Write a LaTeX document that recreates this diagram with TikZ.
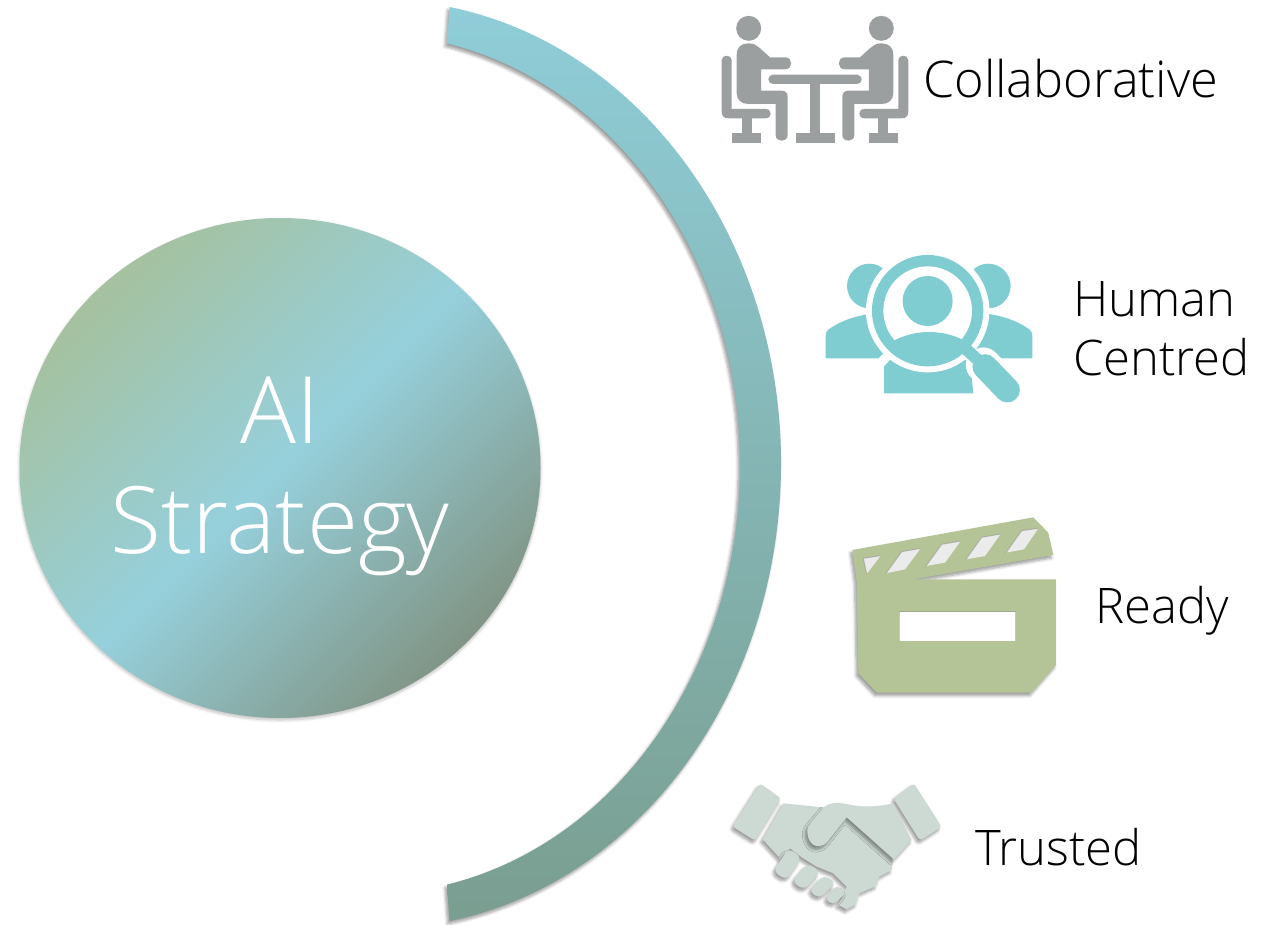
\documentclass[tikz,border=0pt]{standalone}
\usepackage{fontspec}
\setmainfont{Open Sans Light}
\usetikzlibrary{shadows.blur}
\definecolor{stratgreen}{HTML}{A7BF97}
\definecolor{stratblue}{HTML}{96D0DC}
\definecolor{stratdark}{HTML}{7E8E7B}
\definecolor{arctop}{HTML}{8FCDD8}
\definecolor{arcmiddle}{HTML}{7DA698}
\definecolor{arcbottom}{HTML}{7A9E90}
\definecolor{collabgrey}{HTML}{9C9F9F}
\definecolor{humanteal}{HTML}{7FCDD1}
\definecolor{readygreen}{HTML}{B4C497}
\definecolor{trustgrey}{HTML}{CDD9D3}
\pgfdeclarehorizontalshading{stratshade}{100bp}{color(0bp)=(stratgreen); color(22bp)=(stratgreen); color(50bp)=(stratblue); color(78bp)=(stratdark); color(100bp)=(stratdark)}

\begin{document}
\begin{tikzpicture}[x=1pt,y=-1pt]
\tikzstyle{softshadow}=[blur shadow={shadow xshift=-2pt,shadow yshift=-3pt,shadow blur steps=6,shadow blur radius=3pt,shadow opacity=40}]
\tikzstyle{faintshadow}=[blur shadow={shadow xshift=0pt,shadow yshift=-2pt,shadow blur steps=6,shadow blur radius=3pt,shadow opacity=25}]
\tikzstyle{tag}=[anchor=base west,inner sep=0pt,font=\fontsize{49}{49}\selectfont,text=black]
\tikzstyle{bigtag}=[anchor=base,inner sep=0pt,font=\fontsize{93}{93}\selectfont,text=white]
\tikzstyle{holeedge}=[black!45,line width=1pt,opacity=0.5]
\useasboundingbox (0,0) rectangle (1276,924);

% Circle and band
\shade[shading=stratshade,shading angle=-45,faintshadow] (280,468) ellipse (260.5pt and 250pt);
\shade[top color=arctop,middle color=arcmiddle,bottom color=arcbottom,softshadow] (449.6,7) arc[start angle=80,end angle=-80,x radius=401pt,y radius=464pt] -- (447,884.6) arc[start angle=-78,end angle=78,x radius=370pt,y radius=430pt] -- cycle;

% Texts
\node (AI) [bigtag] at (280,443) {AI};
\node (STRAT) [bigtag] at (280,553) {Strategy};
\node (COLLAB) [tag,font=\fontsize{50.5}{50}\selectfont] at (923,97) {Collaborative};
\node (HUMAN) [tag] at (1073,316) {Human};
\node (CENTRED) [tag] at (1073,375) {Centred};
\node (READY) [tag] at (1095,623) {Ready};
\node (TRUSTED) [tag] at (975,865) {Trusted};

% Collaborative icon
\begin{scope}[shift={(700,0)},x=0.3333pt,y=-0.3333pt,fill=collabgrey]
\fill[rounded corners=4.6pt] (205,224) rectangle (485,252);
\fill (330,250) rectangle (360,405);
\fill (287,400) rectangle (405,430);
\foreach \side/\xs in {0/1,690/-1}{
\begin{scope}[shift={(\side,0)},xscale=\xs]
\fill (146,85) circle (12.5pt);
\fill (110,165) .. controls (110,140) and (125,130) .. (146,130) .. controls (160,130) and (170,135) .. (178,143) -- (210,172) -- (255,172) .. controls (280,172) and (280,208) .. (255,208) -- (183,208) -- (183,272) -- (245,272) .. controls (257,272) and (263,280) .. (263,290) -- (263,405) .. controls (263,428) and (227,428) .. (227,405) -- (227,312) -- (145,312) .. controls (125,312) and (110,300) .. (110,280) -- cycle;
\fill (65,180) .. controls (65,163) and (95,163) .. (95,180) -- (95,327) -- (197,327) .. controls (217,327) and (217,355) .. (197,355) -- (85,355) .. controls (72,355) and (65,348) .. (65,335) -- cycle;
\fill (125,350) rectangle (155,405);
\fill (95,400) rectangle (183,430);
\end{scope}
}
\end{scope}

% Human centred icon
\begin{scope}[shift={(810,250)},x=0.3333pt,y=-0.3333pt]
\fill[humanteal] (178,108) circle (22.3pt);
\fill[humanteal] (535,108) circle (22.3pt);
\fill[humanteal] (47,325) -- (47,258) .. controls (47,245) and (52,240) .. (62,234) .. controls (90,215) and (130,198) .. (190,190) -- (260,250) -- (218,312) -- (205,325) -- cycle;
\fill[humanteal] (667,325) -- (667,258) .. controls (667,245) and (662,240) .. (652,234) .. controls (624,215) and (584,198) .. (524,190) -- (454,250) -- (500,325) -- cycle;
\fill[humanteal] (222,430) -- (222,350) -- (240,330) -- (480,330) -- (490,430) -- cycle;
\fill[white] (353,182) circle (61.7pt);
\draw[white,line width=35pt,line cap=round] (520,345) -- (592,420);
\fill[humanteal] (353,182) circle (55.7pt);
\fill[white] (353,182) circle (44.3pt);
\fill[humanteal] (353,153) circle (25pt);
\begin{scope}
\clip (353,182) circle (44.8pt);
\fill[humanteal] (220,340) -- (255,270) .. controls (320,238) and (395,238) .. (460,270) -- (500,340) -- cycle;
\end{scope}
\draw[humanteal,line width=12pt] (455,285) -- (520,345);
\draw[humanteal,line width=25pt,line cap=round] (525,350) -- (592,420);
\end{scope}

% Ready icon
\begin{scope}[shift={(840,510)},x=0.3333pt,y=-0.3333pt]
\fill[readygreen,softshadow] (37,120) -- (580,22) -- (625,68) -- (640,135) -- (220,208) -- (648,208) -- (648,465) -- (575,548) -- (110,548) -- (55,490) -- (50,215) -- cycle;
\fill[white] (177,305) rectangle (528,392);
\draw[holeedge] (177,392) -- (177,305) -- (528,305) -- (528,392);
\foreach \ax/\ay/\bx/\by/\cx/\cy/\dx/\dy in {185/125/242/115/195/178/138/190,305/103/362/93/315/158/258/168,425/82/482/72/435/138/378/148,545/62/595/55/552/118/498/128,70/145/122/137/80/192/80/192}{
\fill[black!8] (\ax,\ay) -- (\bx,\by) -- (\cx,\cy) -- (\dx,\dy) -- cycle;
\draw[holeedge] (\dx,\dy) -- (\ax,\ay) -- (\bx,\by);
}
\end{scope}

% Trusted icon
\begin{scope}[shift={(720,770)},x=0.3333pt,y=-0.3333pt]
\fill[trustgrey,softshadow,rounded corners=3pt] (120,40) -- (183,85) -- (105,212) -- (38,170) -- cycle;
\fill[trustgrey,softshadow,rounded corners=3pt] (582,40) -- (520,85) -- (600,212) -- (665,170) -- cycle;
% Lower hand
\fill[trustgrey,softshadow] (190,100) -- (310,112) -- (380,140) -- (518,268) -- (515,300) -- (478,320) -- (468,348) -- (418,370) -- (408,402) -- (380,418) -- (355,405) -- (380,350) -- (340,310) -- (290,290) -- (245,262) -- (210,235) -- (180,265) -- (128,208) -- cycle;
\foreach \ax/\ay/\bx/\by/\cx/\cy/\dx/\dy/\rad in {205/235/245/262/200/330/160/305/6,262/280/302/305/252/360/216/335/6,312/315/348/338/298/386/266/362/5.5,350/345/380/365/340/405/314/388/5}{
\fill[trustgrey,softshadow,rounded corners=\rad pt] (\ax,\ay) -- (\bx,\by) -- (\cx,\cy) -- (\dx,\dy) -- cycle;
}
% Upper hand
\fill[trustgrey,softshadow] (262,180) .. controls (262,170) and (270,160) .. (312,112) .. controls (330,98) and (350,95) .. (380,102) .. controls (420,112) and (470,112) .. (520,100) -- (575,210) -- (522,268) -- (380,142) -- (330,205) .. controls (310,240) and (262,240) .. (262,180) -- cycle;
\end{scope}
\end{tikzpicture}
\end{document}
